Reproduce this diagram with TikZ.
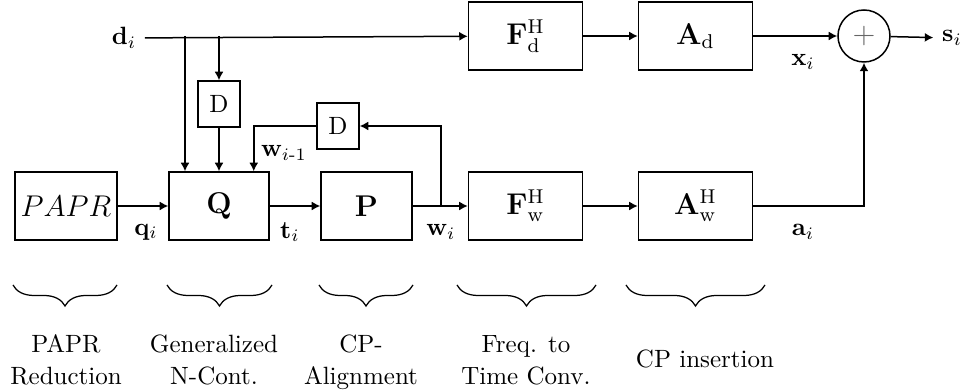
\documentclass[tikz,border=0pt]{standalone}
\usepackage{amsmath}
\usetikzlibrary{arrows.meta,decorations.pathreplacing}

\begin{document}
\begin{tikzpicture}[x=0.4pt,y=-0.4pt,
  blk/.style={draw, line width=0.6pt, inner sep=0pt, minimum height=27.2pt, font=\large},
  dly/.style={draw, line width=0.6pt, inner sep=0pt, minimum width=16.8pt, minimum height=18.4pt},
  flow/.style={line width=0.6pt, -{Latex[length=3.4pt,width=3.6pt]}},
  brc/.style={decorate, decoration={brace, mirror, amplitude=8.4pt}, line width=0.5pt},
  stage/.style={align=center, font=\fontsize{10}{12.8}\selectfont}]
\useasboundingbox (0,0) rectangle (963,391);
\node[blk, minimum width=40.8pt] (papr) at (66,206) {$PAPR$};
\node[blk, minimum width=40pt] (q) at (219,206) {$\mathbf{Q}$};
\node[blk, minimum width=36.4pt] (p) at (366.5,206) {$\mathbf{P}$};
\node[blk, minimum width=45.6pt] (fw) at (525.5,206) {$\mathbf{F}^{\mathrm{H}}_{\mathrm{w}}$};
\node[blk, minimum width=45.6pt] (aw) at (695.5,206) {$\mathbf{A}^{\mathrm{H}}_{\mathrm{w}}$};
\node[blk, minimum width=45.6pt] (fd) at (525.5,36) {$\mathbf{F}^{\mathrm{H}}_{\mathrm{d}}$};
\node[blk, minimum width=45.6pt] (ad) at (695.5,36) {$\mathbf{A}_{\mathrm{d}}$};
\node[draw, circle, line width=0.6pt, inner sep=0pt, minimum size=20.8pt, text=black!60] (sum) at (864,36) {\large$+$};
\node[dly] (d1) at (219,104) {D};
\node[dly] (d2) at (338,126) {D};

\node (di) at (124,38) {$\mathbf{d}_i$};
\node (si) at (952,38) {$\mathbf{s}_i$};
\node (qi) at (146,232) {$\mathbf{q}_i$};
\node (ti) at (290,232) {$\mathbf{t}_i$};
\node (wi) at (441,232) {$\mathbf{w}_i$};
\node (wim) at (284,153) {$\mathbf{w}_{i\text{-}1}$};
\node (xi) at (803,62) {$\mathbf{x}_i$};
\node (ai) at (803,232) {$\mathbf{a}_i$};

\coordinate (br1) at (185,36);
\coordinate (br2) at (219,36);
\coordinate (br3) at (441,206);

\draw[flow] (di) -- (fd);
\draw[flow] (br1) -- (br1 |- q.north);
\draw[flow] (br2) -- (d1);
\draw[flow] (d1) -- (q);
\draw[flow] (papr) -- (q);
\draw[flow] (q) -- (p);
\draw[flow] (p) -- (fw);
\draw[flow] (fw) -- (aw);
\draw[flow] (fd) -- (ad);
\draw[flow] (ad) -- (sum);
\draw[flow] (sum) -- (si);
\draw[flow] (aw) -| (sum);
\draw[flow] (br3) |- (d2);
\draw[flow] (d2) -| ([xshift=-6.4pt]q.north east);

\draw[brc] (13,285) -- (117,285);
\draw[brc] (167,285) -- (272,285);
\draw[brc] (319,285) -- (413,285);
\draw[brc] (457,285) -- (596,285);
\draw[brc] (626,285) -- (765,285);
\node[stage] (c1) at (66,360) {PAPR\\Reduction};
\node[stage] (c2) at (214,360) {Generalized\\N-Cont.};
\node[stage] (c3) at (361,362) {CP-\\Alignment};
\node[stage] (c4) at (526,360) {Freq. to\\Time Conv.};
\node[stage] (c5) at (705,358.5) {CP insertion};
\end{tikzpicture}
\end{document}
